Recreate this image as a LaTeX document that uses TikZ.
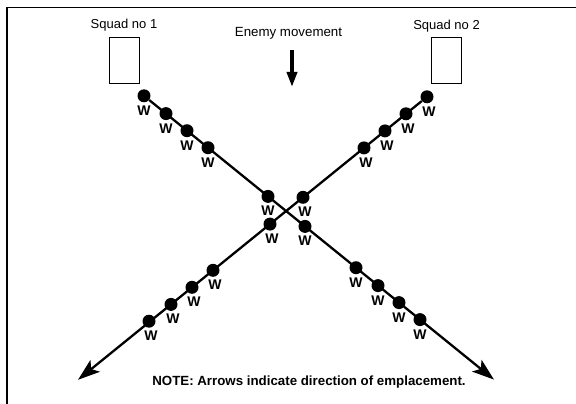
\documentclass[tikz,border=0pt]{standalone}
\usepackage{fontspec}
\setmainfont{Liberation Sans}
\usepackage{tikz}
\usetikzlibrary{positioning}
\usetikzlibrary{arrows.meta}
\tikzset{>={Stealth[length=22pt,width=15pt,inset=5pt]}}
\tikzset{
  wlbl/.style={inner sep=3pt, font=\fontsize{14}{16}\selectfont\bfseries},
  dota/.style={circle, fill, inner sep=0pt, minimum size=13pt, label={[wlbl]below:W}},
  dotb/.style={circle, fill, inner sep=0pt, minimum size=13pt, label={[wlbl,xshift=2pt]below:W}},
  squadbox/.style={draw, line width=0.8pt, minimum width=30pt, minimum height=46pt, inner sep=0pt},
  txt/.style={inner sep=0pt, font=\fontsize{13}{15}\selectfont},
  fireline/.style={line width=2.3pt, ->},
}

\begin{document}
\begin{tikzpicture}[x=1pt, y=-1pt]
\useasboundingbox (0, 0) rectangle (576, 404);
\draw[line width=1.2pt] (576, 7.5) -- (7, 7.5) -- (7, 404);
\node[squadbox] (sq1) at (124, 60) {};
\node[squadbox] (sq2) at (446.5, 60.5) {};
\node[txt, above=5pt of sq1] (sq1lbl) {Squad no 1};
\node[txt, above=5pt of sq2] (sq2lbl) {Squad no 2};
\node[txt, anchor=base, font=\fontsize{13.3}{15}\selectfont] (enemy) at (288.5, 36.7) {Enemy movement};
\coordinate (mvtop) at (292, 50);
\coordinate (mvend) at (292, 87);
\draw[line width=3.5pt, -{Triangle[length=15pt,width=10pt]}] (mvtop) -- (mvend);
\node[dota] (a1) at (144, 95.8) {};
\node[dota] (a2) at (166, 113.6) {};
\node[dota] (a3) at (187, 130.7) {};
\node[dota] (a4) at (208, 147.7) {};
\node[dota] (a5) at (268, 196.4) {};
\node[dota] (a6) at (305, 226.4) {};
\node[dota] (a7) at (356, 267.7) {};
\node[dota] (a8) at (378, 285.6) {};
\node[dota] (a9) at (399, 302.6) {};
\node[dota] (a10) at (420, 319.6) {};
\coordinate (enda) at (494, 379.6);
\node[dotb] (b1) at (427, 96.8) {};
\node[dotb] (b2) at (406, 113.8) {};
\node[dotb] (b3) at (385, 130.9) {};
\node[dotb] (b4) at (364, 147.9) {};
\node[dotb] (b5) at (303, 197.3) {};
\node[dotb] (b6) at (270, 224.1) {};
\node[dotb] (b7) at (213, 270.3) {};
\node[dotb] (b8) at (192, 287.3) {};
\node[dotb] (b9) at (171, 304.4) {};
\node[dotb] (b10) at (149, 321.2) {};
\coordinate (endb) at (78, 379.8);
\draw[fireline] (a1) -- (enda);
\draw[fireline] (b1) -- (endb);
\node[txt, anchor=base, font=\fontsize{13.3}{15}\selectfont\bfseries] (note) at (309, 385.7) {NOTE: Arrows indicate direction of emplacement.};
\end{tikzpicture}
\end{document}
